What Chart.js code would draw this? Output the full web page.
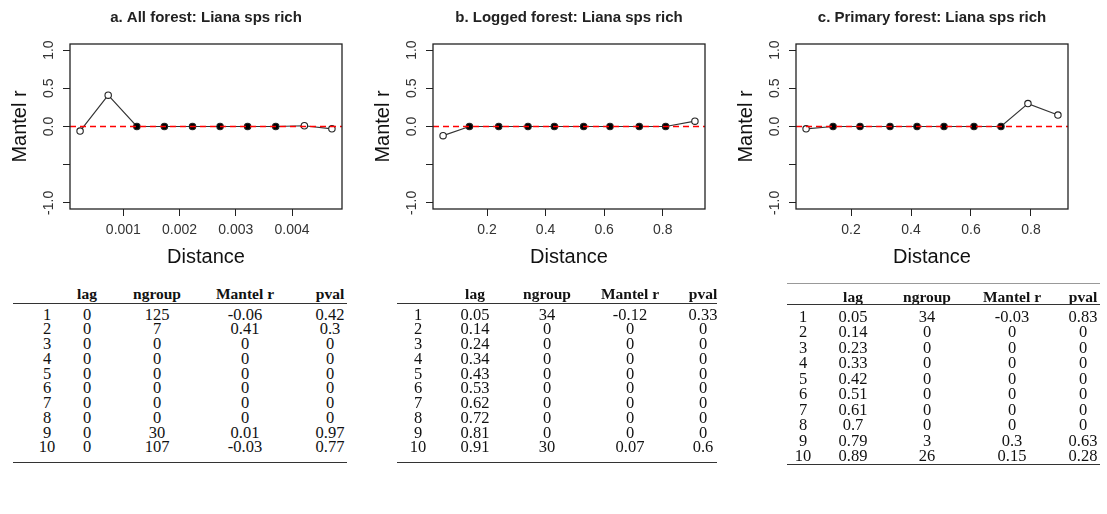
<!DOCTYPE html>
<html>
<head>
<meta charset="utf-8">
<script src="https://cdn.jsdelivr.net/npm/chart.js@4.4.0/dist/chart.umd.min.js"></script>
<style>
  body { margin: 0; background: #fff; width: 1107px; height: 514px; position: relative; overflow: hidden; }
  canvas.panel { position: absolute; top: 0; }
  .cell { position: absolute; transform: translate(-50%, -50%); white-space: nowrap; line-height: 1;
          font-family: "Liberation Serif", "Times New Roman", serif; font-size: 16.5px; color: #111; }
  .hd { font-weight: bold; font-size: 15.5px; }
  .rule { position: absolute; height: 0; border-top: 1.5px solid #333; }
  .rule.thin { border-top: 1px solid #999; }
</style>
</head>
<body>
<canvas id="chartA" class="panel" width="370" height="275" style="left:0px"></canvas>
<canvas id="chartB" class="panel" width="370" height="275" style="left:363px"></canvas>
<canvas id="chartC" class="panel" width="370" height="275" style="left:726px"></canvas>
<script>
// y axis (same for all three panels)
const yTicks = [-1, -0.5, 0, 0.5, 1];
const yTickText = ["-1.0", "", "0.0", "0.5", "1.0"];

// a. All forest
const distA = [0.00023, 0.00073, 0.00124, 0.00173, 0.00223, 0.00272, 0.00321, 0.00371, 0.00422, 0.00471];
const lagA = [0, 0, 0, 0, 0, 0, 0, 0, 0, 0];
const ngroupA = [125, 7, 0, 0, 0, 0, 0, 0, 30, 107];
const mantelA = [-0.06, 0.41, 0, 0, 0, 0, 0, 0, 0.01, -0.03];
const pvalA = [0.42, 0.3, 0, 0, 0, 0, 0, 0, 0.97, 0.77];
const xTicksA = [0.001, 0.002, 0.003, 0.004];
const xTickTextA = ["0.001", "0.002", "0.003", "0.004"];

// b. Logged forest
const lagB = [0.05, 0.14, 0.24, 0.34, 0.43, 0.53, 0.62, 0.72, 0.81, 0.91];
const ngroupB = [34, 0, 0, 0, 0, 0, 0, 0, 0, 30];
const mantelB = [-0.12, 0, 0, 0, 0, 0, 0, 0, 0, 0.07];
const pvalB = [0.33, 0, 0, 0, 0, 0, 0, 0, 0, 0.6];

// c. Primary forest
const lagC = [0.05, 0.14, 0.23, 0.33, 0.42, 0.51, 0.61, 0.7, 0.79, 0.89];
const ngroupC = [34, 0, 0, 0, 0, 0, 0, 0, 3, 26];
const mantelC = [-0.03, 0, 0, 0, 0, 0, 0, 0, 0.3, 0.15];
const pvalC = [0.83, 0, 0, 0, 0, 0, 0, 0, 0.63, 0.28];

const xTicksBC = [0.2, 0.4, 0.6, 0.8];
const xTickTextBC = ["0.2", "0.4", "0.6", "0.8"];

const headers = ["", "lag", "ngroup", "Mantel r", "pval"];
const sans = "'Liberation Sans', Arial, sans-serif";

function rStyle(title) {
  return {
    id: "rStyle",
    afterDatasetsDraw(chart) {
      const { ctx, chartArea: a, scales: { y } } = chart;
      const y0 = y.getPixelForValue(0);
      ctx.save();
      ctx.beginPath();
      ctx.rect(a.left, a.top, a.right - a.left, a.bottom - a.top);
      ctx.clip();
      ctx.strokeStyle = "#ff0000";
      ctx.lineWidth = 1.5;
      ctx.setLineDash([6, 4]);
      ctx.beginPath();
      ctx.moveTo(a.left, y0);
      ctx.lineTo(a.right, y0);
      ctx.stroke();
      ctx.restore();
    },
    afterDraw(chart) {
      const { ctx, chartArea: a, scales: { y } } = chart;
      ctx.save();
      // box round the plot
      ctx.strokeStyle = "#222";
      ctx.lineWidth = 1.3;
      ctx.strokeRect(a.left, a.top, a.right - a.left, a.bottom - a.top);
      // title
      ctx.fillStyle = "#222";
      ctx.font = "bold 15px " + sans;
      ctx.textAlign = "center";
      ctx.textBaseline = "alphabetic";
      ctx.fillText(title, (a.left + a.right) / 2, 22);
      // y tick labels, parallel to the axis like R
      ctx.font = "14px " + sans;
      ctx.fillStyle = "#333";
      ctx.textBaseline = "middle";
      y.ticks.forEach((t, i) => {
        ctx.save();
        ctx.translate(49, y.getPixelForValue(t.value));
        ctx.rotate(-Math.PI / 2);
        ctx.fillText(yTickText[i], 0, 0);
        ctx.restore();
      });
      ctx.restore();
    }
  };
}

function makePanel(id, title, xs, ys, ps, xTicks, xTickText) {
  const lo = Math.min(...xs), hi = Math.max(...xs);
  const pad = (hi - lo) * 0.04;
  new Chart(document.getElementById(id), {
    type: "scatter",
    data: {
      datasets: [{
        data: xs.map((x, i) => ({ x: x, y: ys[i] })),
        showLine: true,
        borderColor: "#333",
        borderWidth: 1.2,
        pointRadius: 3.2,
        pointBorderWidth: 1.1,
        pointBorderColor: "#222",
        pointBackgroundColor: ps.map(p => (p < 0.05 ? "#000" : "#fff"))
      }]
    },
    options: {
      responsive: false,
      animation: false,
      layout: { padding: { top: 44, right: 28, left: 0, bottom: 0 } },
      plugins: { legend: { display: false }, tooltip: { enabled: false } },
      scales: {
        x: {
          type: "linear",
          min: lo - pad,
          max: hi + pad,
          afterBuildTicks: s => { s.ticks = xTicks.map(v => ({ value: v })); },
          afterFit: s => { s.height = 66; },
          grid: { drawOnChartArea: false, tickLength: 7, color: "#222" },
          border: { display: false },
          ticks: {
            callback: (v, i) => xTickText[i],
            autoSkip: false, maxRotation: 0,
            padding: 6, color: "#333",
            font: { family: sans, size: 14 }
          },
          title: {
            display: true, text: "Distance", color: "#111",
            font: { family: sans, size: 20 },
            padding: { top: 0, bottom: 6 }
          }
        },
        y: {
          min: -1.08,
          max: 1.08,
          afterBuildTicks: s => { s.ticks = yTicks.map(v => ({ value: v })); },
          afterFit: s => { s.width = 70; },
          grid: { drawOnChartArea: false, tickLength: 7, color: "#222" },
          border: { display: false },
          ticks: { callback: () => "" },
          title: {
            display: true, text: "Mantel r", color: "#111",
            font: { family: sans, size: 20 },
            padding: { top: 8, bottom: 0 }
          }
        }
      }
    },
    plugins: [rStyle(title)]
  });
}

function makeTable(cols, box) {
  const body = document.body;
  const addRule = (y, cls) => {
    const r = document.createElement("div");
    r.className = "rule" + (cls ? " " + cls : "");
    r.style.left = box.left + "px";
    r.style.width = (box.right - box.left) + "px";
    r.style.top = y + "px";
    body.appendChild(r);
  };
  const addCell = (text, x, y, bold) => {
    const c = document.createElement("div");
    c.className = "cell" + (bold ? " hd" : "");
    c.textContent = text;
    c.style.left = x + "px";
    c.style.top = y + "px";
    body.appendChild(c);
  };
  if (box.topRule) addRule(box.topRule, "thin");
  headers.forEach((h, j) => { if (h) addCell(h, box.cols[j], box.header, true); });
  addRule(box.rule);
  cols[0].forEach((_, i) => {
    const y = box.row0 + i * box.pitch;
    addCell(String(i + 1), box.cols[0], y);
    cols.forEach((col, j) => addCell(String(col[i]), box.cols[j + 1], y));
  });
  addRule(box.bottom);
}

makePanel("chartA", "a. All forest: Liana sps rich", distA, mantelA, pvalA, xTicksA, xTickTextA);
makePanel("chartB", "b. Logged forest: Liana sps rich", lagB, mantelB, pvalB, xTicksBC, xTickTextBC);
makePanel("chartC", "c. Primary forest: Liana sps rich", lagC, mantelC, pvalC, xTicksBC, xTickTextBC);

makeTable([lagA, ngroupA, mantelA, pvalA],
  { left: 13, right: 347, header: 294, rule: 303, row0: 314.5, pitch: 14.75, bottom: 462, cols: [47, 87, 157, 245, 330] });
makeTable([lagB, ngroupB, mantelB, pvalB],
  { left: 397, right: 717, header: 294, rule: 303, row0: 314.5, pitch: 14.75, bottom: 462, cols: [418, 475, 547, 630, 703] });
makeTable([lagC, ngroupC, mantelC, pvalC],
  { left: 787, right: 1100, topRule: 283, header: 296.5, rule: 304, row0: 317, pitch: 15.45, bottom: 464, cols: [803, 853, 927, 1012, 1083] });
</script>
</body>
</html>
